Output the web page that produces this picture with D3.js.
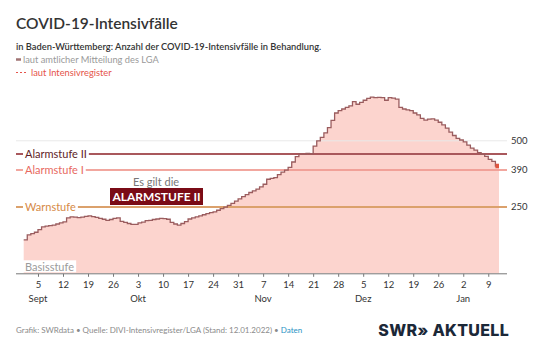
<!DOCTYPE html>
<html><head><meta charset="utf-8">
<script src="https://cdn.jsdelivr.net/npm/d3@7"></script>
<style>
body{margin:0;background:#fff}
svg{display:block;font-family:Lato,"Noto Sans",sans-serif}
</style>
</head><body>
<svg id="c" width="540" height="360"></svg>
<script>
// ---- data (daily COVID-19 ICU cases, Baden-Württemberg) ----
const startDate = "2021-09-01";
const sept = [126,145,150,155,165,175,178,180,182,186,190,194,209,213,212,210,212,215,217,214,211,207,204,200,203,207,209,196,192,188];
const okt  = [185,185,190,193,199,200,203,205,207,206,204,192,186,182,188,195,205,209,213,217,221,225,229,232,238,244,250,256,264,272,281];
const nov  = [289,297,305,311,318,326,336,355,358,361,372,382,389,400,420,440,451,449,452,451,480,500,513,530,550,577,605,614,620,626];
const dez  = [632,648,638,645,653,660,665,663,664,663,653,663,661,657,626,620,617,614,605,598,585,578,582,583,578,570,560,548,533,520,509];
const jan  = [503,496,484,472,465,455,449,441,430,422,402];
const intensivDates = ["2022-01-11","2022-01-12"];
const intensivValues = [405,405];
const levelNames  = ["Alarmstufe II","Alarmstufe I","Warnstufe","Basisstufe"];
const levelValues = [450,390,250,0];
const levelColors = ["#a9585c","#f08c82","#dba16c",null];
const levelTextColors = ["#5e1d27","#e8695f","#d68a47","#9b9b9b"];
const gridValues = [500,390,250];
const monthLabels = ["Sept","Okt","Nov","Dez","Jan"];
const endDate = "2022-01-12";

// ---- build ----
const parse = d3.timeParse("%Y-%m-%d");
const t0 = parse(startDate);
const lgaValues = [].concat(sept, okt, nov, dez, jan);
const lga = lgaValues.map((v,i)=>({date:d3.timeDay.offset(t0,i), value:v}));
const intensiv = intensivDates.map((d,i)=>({date:parse(d), value:intensivValues[i]}));
const tEnd = parse(endDate);

const svg = d3.select("#c");
const x = d3.scaleTime().domain([t0, tEnd]).range([23.7, 499]);
const y = d3.scaleLinear().domain([0, 700]).range([273.3, 87.8]);
const X0 = 16, X1 = 507;

// header
svg.append("text").attr("x",16).attr("y",29).attr("font-size",15.5).attr("font-weight",600).attr("fill","#333").text("COVID-19-Intensivfälle");
svg.append("text").attr("x",16).attr("y",50).attr("font-size",9.3).attr("font-weight",600).attr("fill","#333")
  .text("in Baden-Württemberg: Anzahl der COVID-19-Intensivfälle in Behandlung.");
svg.append("line").attr("x1",16).attr("x2",21).attr("y1",59.5).attr("y2",59.5).attr("stroke","#a07474").attr("stroke-width",2.5);
svg.append("text").attr("x",23).attr("y",62.5).attr("font-size",9.3).attr("fill","#9a9a9a").text("laut amtlicher Mitteilung des LGA");
svg.append("line").attr("x1",16).attr("x2",28).attr("y1",72.5).attr("y2",72.5).attr("stroke","#e5534a").attr("stroke-width",1.2).attr("stroke-dasharray","2,2");
svg.append("text").attr("x",31).attr("y",75.5).attr("font-size",9.3).attr("fill","#e5534a").text("laut Intensivregister");

// area
const areaData = lga.concat([{date:tEnd, value:lga[lga.length-1].value}]);
svg.append("path").datum(areaData)
  .attr("d", d3.area().curve(d3.curveStepAfter).x(d=>x(d.date)).y0(y(0)).y1(d=>y(d.value)))
  .attr("fill","#fcd4ce");

// grid
svg.selectAll(".grid").data(gridValues).join("line")
  .attr("x1",X0).attr("x2",X1).attr("y1",d=>y(d)).attr("y2",d=>y(d))
  .attr("stroke","#e9e9e9").attr("stroke-width",1);
svg.selectAll(".gl").data(gridValues).join("text")
  .attr("x",511).attr("y",d=>y(d)).attr("dy","0.35em").attr("font-size",9.5).attr("fill","#333").text(d=>d);

// level lines
levelValues.forEach((v,i)=>{
  if(levelColors[i]) {
    svg.append("line").attr("x1",X0).attr("x2",X1).attr("y1",y(v)).attr("y2",y(v))
      .attr("stroke",levelColors[i]).attr("stroke-width", i===1?1.6:2);
  }
});

// axis
const ticks = d3.timeSunday.every(1).range(t0, tEnd);
svg.append("line").attr("x1",X0).attr("x2",X1).attr("y1",y(0)+0.5).attr("y2",y(0)+0.5).attr("stroke","#777").attr("stroke-width",1);
const xAxis = d3.axisBottom(x).tickValues(ticks).tickSize(3).tickFormat(d3.timeFormat("%-d"));
const ax = svg.append("g").attr("transform",`translate(0,${y(0)+0.5})`).call(xAxis);
ax.select(".domain").remove();
ax.selectAll(".tick line").attr("stroke","#777");
ax.selectAll(".tick text").attr("font-size",9.5).attr("fill","#333").attr("font-family","Lato,sans-serif").attr("dy","0").attr("y",14);
let mi = 0;
ticks.forEach(t=>{
  if(t.getDate()<=7 && mi<monthLabels.length){
    svg.append("text").attr("x",x(t)).attr("y",y(0)+28.5).attr("text-anchor","middle")
      .attr("font-size",9.5).attr("fill","#333").text(monthLabels[mi++]);
  }
});

// step line (LGA)
svg.append("path").datum(lga)
  .attr("d", d3.line().curve(d3.curveStepAfter).x(d=>x(d.date)).y(d=>y(d.value)))
  .attr("fill","none").attr("stroke","#9a5c5e").attr("stroke-width",1.3);
// Intensivregister
svg.append("path").datum(intensiv)
  .attr("d", d3.line().x(d=>x(d.date)).y(d=>y(d.value)))
  .attr("fill","none").attr("stroke","#e1553f").attr("stroke-width",4.5);

// level labels with white knockout
levelValues.forEach((v,i)=>{
  const isBase = !levelColors[i];
  const g = svg.append("g");
  const t = g.append("text").attr("x",25).attr("y", isBase ? y(v)-2 : y(v)).attr("dy", isBase?"0":"0.35em")
    .attr("font-size",11).attr("fill",levelTextColors[i]).text(levelNames[i]);
  const b = t.node().getBBox();
  g.insert("rect","text").attr("x",23).attr("y",b.y).attr("width",b.width+4).attr("height",b.height-1).attr("fill","#fff");
});

// annotation
svg.append("text").attr("x",156).attr("y",186).attr("text-anchor","middle").attr("font-size",11).attr("fill","#777").text("Es gilt die");
svg.append("rect").attr("x",110).attr("y",188).attr("width",93).attr("height",17).attr("fill","#7a0b16");
svg.append("text").attr("x",156.5).attr("y",201).attr("text-anchor","middle").attr("font-size",12).attr("font-weight",700)
  .attr("fill","#fff").attr("textLength",88).attr("lengthAdjust","spacingAndGlyphs").text("ALARMSTUFE II");

// footer
const f = svg.append("text").attr("x",16).attr("y",333).attr("font-size",8).attr("fill","#8a8a8a");
f.append("tspan").text("Grafik: SWRdata • Quelle: DIVI-Intensivregister/LGA (Stand: 12.01.2022) • ");
f.append("tspan").attr("fill","#2a93c4").text("Daten");
svg.append("text").attr("x",509).attr("y",336).attr("text-anchor","end").attr("font-size",16).attr("font-weight",800)
  .attr("font-family","Inter,Roboto,sans-serif").attr("fill","#1b2838").attr("letter-spacing","0.3").text("SWR» AKTUELL");
</script>
</body></html>
